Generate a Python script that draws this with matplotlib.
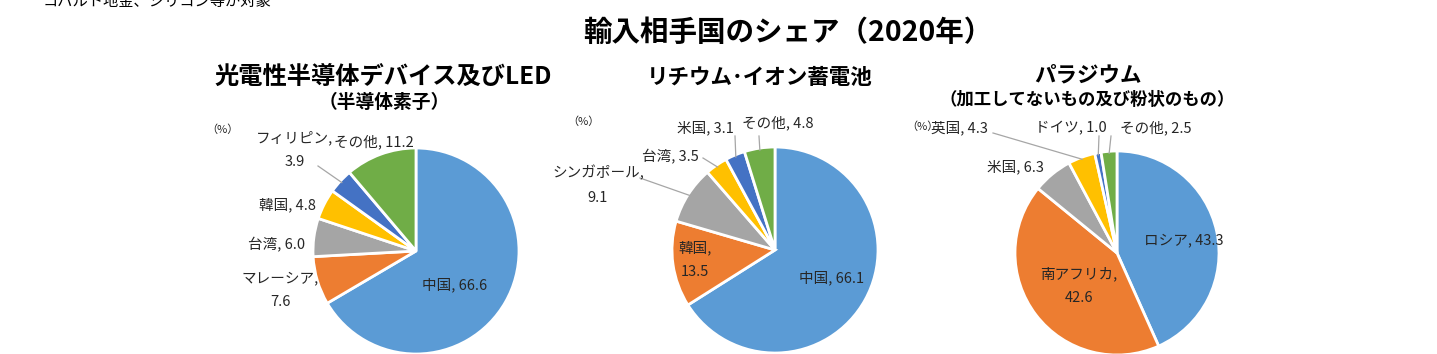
import numpy as np
import matplotlib.pyplot as plt

plt.rcParams['font.family'] = ['Noto Sans CJK JP', 'DejaVu Sans']

W, H = 1437, 354
colors = ['#5B9BD5', '#ED7D31', '#A5A5A5', '#FFC000', '#4472C4', '#70AD47']

# データ
led_names = ['中国', 'マレーシア', '台湾', '韓国', 'フィリピン', 'その他']
led_vals = [66.6, 7.6, 6.0, 4.8, 3.9, 11.2]
li_names = ['中国', '韓国', 'シンガポール', '台湾', '米国', 'その他']
li_vals = [66.1, 13.5, 9.1, 3.5, 3.1, 4.8]
pd_names = ['ロシア', '南アフリカ', '米国', '英国', 'ドイツ', 'その他']
pd_vals = [43.3, 42.6, 6.3, 4.3, 1.0, 2.5]

# ラベル位置 (px, 上基準), 改行するか, 引き出し線の有無
led_lab = [((455, 285), False, False), ((280, 290), True, False), ((277, 245), False, False),
           ((287, 205), False, False), ((295, 150), True, True), ((374, 142), False, False)]
li_lab = [((832, 278), False, False), ((695, 260), True, False), ((598, 185), True, True),
          ((670, 157), False, True), ((705, 128), False, True), ((778, 123), False, True)]
pd_lab = [((1184, 240), False, False), ((1079, 286), True, False), ((1015, 167), False, False),
          ((959, 128), False, True), ((1071, 128), False, True), ((1156, 128), False, True)]
leader_end = {('led', 4): (318, 166), ('li', 2): (640, 178), ('li', 3): (703, 158),
              ('li', 4): (735, 136), ('li', 5): (759, 136), ('pd', 3): (993, 133),
              ('pd', 4): (1099, 136), ('pd', 5): (1111, 136)}

fig = plt.figure(figsize=(W / 100, H / 100), dpi=100)
ax = fig.add_axes([0, 0, 1, 1])


def draw_pie(key, names, vals, labs, cx, cy, r):
    ax.pie(vals, colors=colors, startangle=90, counterclock=False,
           center=(cx, H - cy), radius=r,
           wedgeprops=dict(edgecolor='white', linewidth=2))
    total = sum(vals)
    cum = 0
    for i, (n, v) in enumerate(zip(names, vals)):
        mid = 90 - (cum + v / 2) / total * 360
        cum += v
        (lx, ly), wrap, lead = labs[i]
        txt = f'{n},\n{v:.1f}' if wrap else f'{n}, {v:.1f}'
        ax.text(lx, H - ly, txt, ha='center', va='center', fontsize=10.5,
                linespacing=1.9, color='#262626')
        if lead:
            ex, ey = leader_end[(key, i)]
            a = np.deg2rad(mid)
            px = cx + r * 0.98 * np.cos(a)
            py = H - cy + r * 0.98 * np.sin(a)
            ax.plot([ex, px], [H - ey, py], color='#A6A6A6', lw=0.9)


draw_pie('led', led_names, led_vals, led_lab, 416, 251, 103)
draw_pie('li', li_names, li_vals, li_lab, 775, 250, 103)
draw_pie('pd', pd_names, pd_vals, pd_lab, 1117, 253, 102)

ax.set_xlim(0, W)
ax.set_ylim(0, H)
ax.axis('off')

ax.text(43, H - 1, 'コバルト地金、シリコン等が対象', fontsize=11, va='center', ha='left')
ax.text(788, H - 33, '輸入相手国のシェア（2020年）', fontsize=20.5, fontweight='bold',
        ha='center', va='center')
ax.text(383, H - 77, '光電性半導体デバイス及びLED', fontsize=17.5, fontweight='bold',
        ha='center', va='center')
ax.text(384, H - 102, '（半導体素子）', fontsize=13.5, fontweight='bold',
        ha='center', va='center')
ax.text(760, H - 77, 'リチウム･イオン蓄電池', fontsize=15.5, fontweight='bold',
        ha='center', va='center')
ax.text(1088, H - 75, 'パラジウム', fontsize=15.5, fontweight='bold',
        ha='center', va='center')
ax.text(1087, H - 100, '（加工してないもの及び粉状のもの）', fontsize=12.5,
        fontweight='bold', ha='center', va='center')
for x, y in [(222, 130), (583, 122), (922, 127)]:
    ax.text(x, H - y, '（%）', fontsize=8, ha='center', va='center', color='#262626')

fig.savefig('out.png', dpi=100)
